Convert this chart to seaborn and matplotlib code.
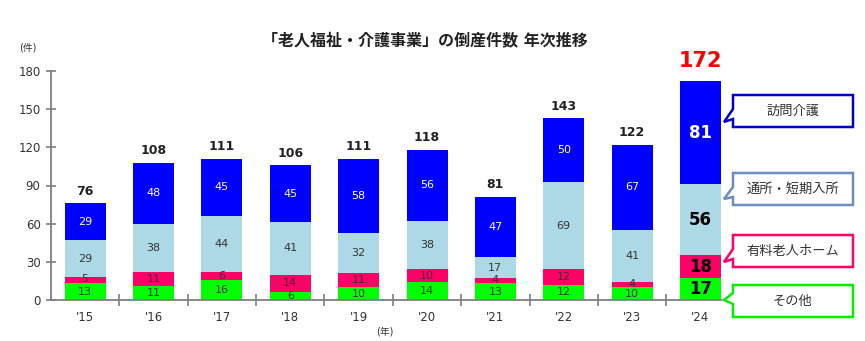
import matplotlib
matplotlib.use("Agg")
import matplotlib.pyplot as plt
import seaborn as sns
import numpy as np
import pandas as pd
from matplotlib.patches import Polygon

sns.set_theme(style="white")
plt.rcParams['font.family'] = ['DejaVu Sans', 'Noto Sans CJK JP']

years = ["'15", "'16", "'17", "'18", "'19", "'20", "'21", "'22", "'23", "'24"]
other = [13, 11, 16, 6, 10, 14, 13, 12, 10, 17]          # その他
nursing_home = [5, 11, 6, 14, 11, 10, 4, 12, 4, 18]      # 有料老人ホーム
day_service = [29, 38, 44, 41, 32, 38, 17, 69, 41, 56]   # 通所・短期入所
home_care = [29, 48, 45, 45, 58, 56, 47, 50, 67, 81]     # 訪問介護
series_names = ["その他", "有料老人ホーム", "通所・短期入所", "訪問介護"]
title = "「老人福祉・介護事業」の倒産件数 年次推移"

colors = ["#00FF00", "#FF0066", "#ADD8E6", "#0000FF"]
edge_colors = ["#00EE00", "#FF0066", "#6C8EBF", "#0000CC"]
series = [other, nursing_home, day_service, home_care]

W, H = 865, 341
fig = plt.figure(figsize=(W / 100, H / 100), dpi=100)
ax = fig.add_axes([51 / W, 1 - 300 / H, (721 - 51) / W, (300 - 71) / H])

arr = np.array(series)
cum = np.cumsum(arr, axis=0)
df = pd.DataFrame({"year": years})
for i in range(3, -1, -1):
    df["v"] = cum[i]
    sns.barplot(data=df, x="year", y="v", order=years, color=colors[i],
                width=0.6, linewidth=0, saturation=1, ax=ax)

ax.set_xlim(-0.5, 9.3)
ax.set_ylim(0, 180)
ax.set_yticks(range(0, 181, 30))
ax.set_xlabel("")
ax.set_ylabel("")

# segment labels
for j in range(len(years)):
    last = (j == len(years) - 1)
    for i in range(4):
        v = arr[i, j]
        yc = cum[i, j] - v / 2
        col = "white" if i == 3 else "#333333"
        if last:
            col = "white" if i == 3 else "black"
            ax.text(j, yc, str(v), ha="center", va="center", color=col,
                    fontsize=12, fontweight="bold")
        else:
            if v <= 5 and i == 1:
                yc += 0.8
            ax.text(j, yc, str(v), ha="center", va="center", color=col,
                    fontsize=8)
    total = cum[3, j]
    if last:
        ax.annotate(str(total), (j, total), xytext=(0, 7), textcoords="offset points",
                    ha="center", va="bottom", color="#FF0000", fontsize=15,
                    fontweight="bold", annotation_clip=False)
    else:
        ax.annotate(str(total), (j, total), xytext=(0, 4), textcoords="offset points",
                    ha="center", va="bottom", color="#222222", fontsize=9,
                    fontweight="bold", annotation_clip=False)

# axes styling
for s in ["top", "right"]:
    ax.spines[s].set_visible(False)
for s in ["left", "bottom"]:
    ax.spines[s].set_color("#7f7f7f")
    ax.spines[s].set_linewidth(1.3)
ax.tick_params(axis="y", direction="inout", length=7, width=1.2, color="#7f7f7f",
               labelsize=8.5, labelcolor="#333333", left=True, pad=4)
ax.set_xticks(np.arange(len(years)))
ax.set_xticklabels(years)
ax.set_xticks(np.arange(len(years) - 1) + 0.5, minor=True)
ax.tick_params(axis="x", which="major", length=0, labelsize=8.5, labelcolor="#333333", pad=8)
ax.tick_params(axis="x", which="minor", direction="inout", length=8, width=1.2,
               color="#7f7f7f", bottom=True)

fig.text(425 / W, 1 - 40 / H, title, ha="center", va="center", fontsize=11.5,
         fontweight="bold", color="#222222")
fig.text(28 / W, 1 - 47 / H, "(件)", ha="center", va="center", fontsize=7, color="#333333")
fig.text(385 / W, 1 - 331 / H, "(年)", ha="center", va="center", fontsize=7, color="#333333")

# callout boxes
boxes = [  # (top, bottom, base1, base2, tip)
    (95, 127, 109, 119, 122),
    (173, 205, 187, 197, 199),
    (235, 267, 249, 259, 262),
    (285, 317, 293, 304, 300),
]
order = [3, 2, 1, 0]
x0, x1, xt = 733, 853, 724
for k, (t, b, b1, b2, tp) in zip(order, boxes):
    pts = [(x0, t), (x1, t), (x1, b), (x0, b), (x0, b2), (xt, tp), (x0, b1)]
    pts = [(px / W, 1 - py / H) for px, py in pts]
    poly = Polygon(pts, closed=True, facecolor="white", edgecolor=edge_colors[k],
                   linewidth=1.8, transform=fig.transFigure, joinstyle="miter")
    fig.patches.append(poly)
    fig.text((x0 + x1) / 2 / W, 1 - (t + b) / 2 / H, series_names[k], ha="center",
             va="center", fontsize=9.5, color="#333333")

fig.savefig("out.png", dpi=100)
